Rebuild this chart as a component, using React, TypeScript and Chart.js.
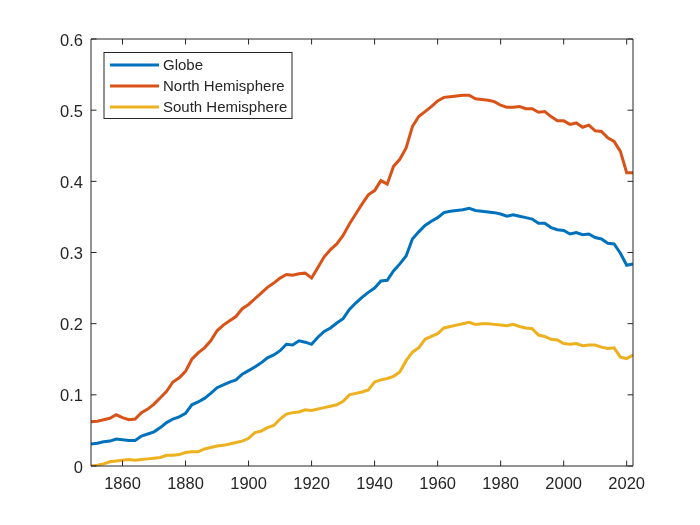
import { useEffect, useRef } from 'react';
import { Chart, registerables } from 'chart.js';

Chart.register(...registerables);

const years = [
  1850, 1852, 1854, 1856, 1858, 1860, 1862, 1864, 1866, 1868,
  1870, 1872, 1874, 1876, 1878, 1880, 1882, 1884, 1886, 1888,
  1890, 1892, 1894, 1896, 1898, 1900, 1902, 1904, 1906, 1908,
  1910, 1912, 1914, 1916, 1918, 1920, 1922, 1924, 1926, 1928,
  1930, 1932, 1934, 1936, 1938, 1940, 1942, 1944, 1946, 1948,
  1950, 1952, 1954, 1956, 1958, 1960, 1962, 1964, 1966, 1968,
  1970, 1972, 1974, 1976, 1978, 1980, 1982, 1984, 1986, 1988,
  1990, 1992, 1994, 1996, 1998, 2000, 2002, 2004, 2006, 2008,
  2010, 2012, 2014, 2016, 2018, 2020, 2022,
];

const globe = [
  0.031, 0.032, 0.034, 0.035, 0.038, 0.037, 0.036, 0.036, 0.042, 0.045,
  0.048, 0.054, 0.061, 0.066, 0.069, 0.074, 0.086, 0.090, 0.095, 0.102,
  0.110, 0.114, 0.118, 0.121, 0.129, 0.134, 0.139, 0.145, 0.152, 0.156,
  0.162, 0.171, 0.170, 0.176, 0.174, 0.171, 0.181, 0.189, 0.194, 0.201,
  0.207, 0.220, 0.229, 0.237, 0.244, 0.250, 0.260, 0.261, 0.274, 0.284,
  0.295, 0.319, 0.329, 0.338, 0.344, 0.349, 0.356, 0.358, 0.359, 0.360,
  0.362, 0.359, 0.358, 0.357, 0.356, 0.354, 0.351, 0.353, 0.351, 0.349,
  0.347, 0.341, 0.341, 0.335, 0.332, 0.331, 0.326, 0.328, 0.325, 0.326,
  0.321, 0.319, 0.313, 0.312, 0.299, 0.282, 0.284,
];

const north = [
  0.062, 0.063, 0.065, 0.067, 0.072, 0.068, 0.065, 0.066, 0.075, 0.080,
  0.087, 0.096, 0.105, 0.118, 0.124, 0.133, 0.150, 0.159, 0.166, 0.176,
  0.190, 0.198, 0.204, 0.210, 0.221, 0.227, 0.235, 0.243, 0.251, 0.257,
  0.264, 0.269, 0.268, 0.270, 0.271, 0.264, 0.279, 0.294, 0.304, 0.312,
  0.324, 0.340, 0.354, 0.368, 0.381, 0.387, 0.401, 0.396, 0.421, 0.431,
  0.447, 0.477, 0.491, 0.498, 0.505, 0.513, 0.518, 0.519, 0.520, 0.521,
  0.521, 0.516, 0.515, 0.514, 0.512, 0.507, 0.504, 0.504, 0.505, 0.502,
  0.502, 0.497, 0.498, 0.491, 0.485, 0.485, 0.480, 0.482, 0.476, 0.479,
  0.471, 0.470, 0.461, 0.456, 0.442, 0.412, 0.412,
];

const south = [
  0.000, 0.001, 0.003, 0.006, 0.007, 0.008, 0.009, 0.008, 0.009, 0.010,
  0.011, 0.012, 0.015, 0.015, 0.016, 0.019, 0.020, 0.020, 0.024, 0.026,
  0.028, 0.029, 0.031, 0.033, 0.035, 0.039, 0.047, 0.049, 0.054, 0.057,
  0.066, 0.073, 0.075, 0.076, 0.079, 0.078, 0.080, 0.082, 0.084, 0.086,
  0.091, 0.100, 0.102, 0.104, 0.107, 0.118, 0.121, 0.123, 0.126, 0.132,
  0.148, 0.160, 0.166, 0.178, 0.182, 0.186, 0.194, 0.196, 0.198, 0.200,
  0.202, 0.199, 0.200, 0.200, 0.199, 0.198, 0.197, 0.199, 0.196, 0.194,
  0.193, 0.184, 0.182, 0.178, 0.177, 0.172, 0.171, 0.172, 0.169, 0.170,
  0.170, 0.167, 0.165, 0.166, 0.153, 0.151, 0.156,
];

const seriesLabels = ['Globe', 'North Hemisphere', 'South Hemisphere'];
const seriesColors = ['#0072BD', '#D95319', '#EDB120'];
const xTicks = [1860, 1880, 1900, 1920, 1940, 1960, 1980, 2000, 2020];
const yTicks = [0, 0.1, 0.2, 0.3, 0.4, 0.5, 0.6];
const yTickLabels = ['0', '0.1', '0.2', '0.3', '0.4', '0.5', '0.6'];

const FONT = '"Liberation Sans", Arial, Helvetica, sans-serif';
const AXIS_COLOR = '#262626';

const framePlugin = {
  id: 'matlabFrame',
  afterDatasetsDraw(chart: any) {
    const { ctx, chartArea: a, scales } = chart;
    ctx.save();
    ctx.strokeStyle = AXIS_COLOR;
    ctx.lineWidth = 1;
    ctx.beginPath();
    ctx.rect(a.left, a.top, a.right - a.left, a.bottom - a.top);
    const tl = 5.5;
    xTicks.forEach((v) => {
      const px = scales.x.getPixelForValue(v);
      ctx.moveTo(px, a.bottom);
      ctx.lineTo(px, a.bottom - tl);
      ctx.moveTo(px, a.top);
      ctx.lineTo(px, a.top + tl);
    });
    yTicks.forEach((v) => {
      const py = scales.y.getPixelForValue(v);
      ctx.moveTo(a.left, py);
      ctx.lineTo(a.left + tl, py);
      ctx.moveTo(a.right, py);
      ctx.lineTo(a.right - tl, py);
    });
    ctx.stroke();

    // legend box
    const bx = a.left + 13;
    const by = a.top + 13.5;
    const bw = 188;
    const bh = 66;
    ctx.fillStyle = '#ffffff';
    ctx.fillRect(bx, by, bw, bh);
    ctx.strokeStyle = AXIS_COLOR;
    ctx.lineWidth = 1;
    ctx.strokeRect(bx, by, bw, bh);
    ctx.font = `15px ${FONT}`;
    ctx.textBaseline = 'middle';
    ctx.textAlign = 'left';
    chart.data.datasets.forEach((ds: any, i: number) => {
      const ry = by + 12.5 + i * 21;
      ctx.strokeStyle = ds.borderColor;
      ctx.lineWidth = 3;
      ctx.beginPath();
      ctx.moveTo(bx + 6, ry);
      ctx.lineTo(bx + 55, ry);
      ctx.stroke();
      ctx.fillStyle = AXIS_COLOR;
      ctx.fillText(ds.label, bx + 59, ry + 0.5);
    });
    ctx.restore();
  },
};

export default function App() {
  const ref = useRef<HTMLCanvasElement | null>(null);

  useEffect(() => {
    if (!ref.current) return;
    const seriesData = [globe, north, south];
    const chart = new Chart(ref.current, {
      type: 'line',
      data: {
        datasets: seriesData.map((vals, i) => ({
          label: seriesLabels[i],
          data: years.map((yr, j) => ({ x: yr, y: vals[j] })),
          borderColor: seriesColors[i],
          backgroundColor: seriesColors[i],
          borderWidth: 3,
          pointRadius: 0,
          tension: 0,
          fill: false,
        })),
      },
      options: {
        responsive: false,
        animation: false,
        devicePixelRatio: 1,
        layout: { padding: { left: 41, right: 67, top: 39, bottom: 19 } },
        plugins: {
          legend: { display: false },
          tooltip: { enabled: false },
          title: { display: false },
        },
        scales: {
          x: {
            type: 'linear',
            min: 1850,
            max: 2022,
            grid: { display: false, drawTicks: false },
            border: { display: false },
            afterFit: (s: any) => {
              s.height = 40;
            },
            afterBuildTicks: (s: any) => {
              s.ticks = xTicks.map((v) => ({ value: v }));
            },
            ticks: {
              autoSkip: false,
              maxRotation: 0,
              padding: 9,
              color: AXIS_COLOR,
              font: { family: FONT, size: 16.5 },
              callback: (v: any) => String(v),
            },
          },
          y: {
            type: 'linear',
            min: 0,
            max: 0.6,
            grid: { display: false, drawTicks: false },
            border: { display: false },
            afterFit: (s: any) => {
              s.width = 50;
            },
            afterBuildTicks: (s: any) => {
              s.ticks = yTicks.map((v) => ({ value: v }));
            },
            ticks: {
              autoSkip: false,
              padding: 8,
              labelOffset: 2,
              color: AXIS_COLOR,
              font: { family: FONT, size: 16.5 },
              callback: (_v: any, idx: number) => yTickLabels[idx],
            },
          },
        },
      },
      plugins: [framePlugin],
    });
    return () => chart.destroy();
  }, []);

  return (
    <div style={{ position: 'absolute', left: 0, top: 0, width: 700, height: 525, background: '#ffffff' }}>
      <canvas ref={ref} width={700} height={525} />
    </div>
  );
}
